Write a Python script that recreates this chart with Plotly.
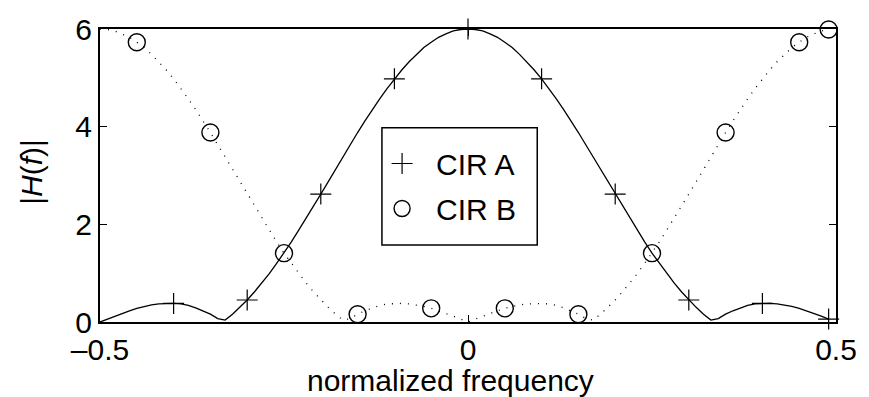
import plotly.graph_objects as go

# Frequency axis of a 100-point DFT, normalized to [-0.5, 0.5)
freq = [k / 100 for k in range(-50, 50)]

# |H(f)| of channel impulse response A, sampled on freq
mag_a = [0.00, 0.06, 0.12, 0.18, 0.23, 0.28, 0.32, 0.35, 0.37, 0.38,
         0.38, 0.37, 0.34, 0.29, 0.23, 0.16, 0.07, 0.04, 0.16, 0.30,
         0.45, 0.62, 0.80, 0.99, 1.20, 1.41, 1.64, 1.88, 2.12, 2.37,
         2.62, 2.87, 3.13, 3.38, 3.63, 3.88, 4.12, 4.35, 4.57, 4.78,
         4.98, 5.16, 5.33, 5.48, 5.62, 5.73, 5.83, 5.90, 5.96, 5.99,
         6.00, 5.99, 5.96, 5.90, 5.83, 5.73, 5.62, 5.48, 5.33, 5.16,
         4.98, 4.78, 4.57, 4.35, 4.12, 3.88, 3.63, 3.38, 3.13, 2.87,
         2.62, 2.37, 2.12, 1.88, 1.64, 1.41, 1.20, 0.99, 0.80, 0.62,
         0.45, 0.30, 0.16, 0.04, 0.07, 0.16, 0.23, 0.29, 0.34, 0.37,
         0.38, 0.38, 0.37, 0.35, 0.32, 0.28, 0.23, 0.18, 0.12, 0.06]

# |H(f)| of channel impulse response B, sampled on freq
mag_b = [6.00, 5.99, 5.96, 5.90, 5.83, 5.73, 5.62, 5.48, 5.33, 5.16,
         4.98, 4.78, 4.57, 4.35, 4.12, 3.88, 3.63, 3.38, 3.13, 2.87,
         2.62, 2.37, 2.12, 1.88, 1.64, 1.41, 1.20, 0.99, 0.80, 0.62,
         0.45, 0.30, 0.16, 0.04, 0.07, 0.16, 0.23, 0.29, 0.34, 0.37,
         0.38, 0.38, 0.37, 0.35, 0.32, 0.28, 0.23, 0.18, 0.12, 0.06,
         0.00, 0.06, 0.12, 0.18, 0.23, 0.28, 0.32, 0.35, 0.37, 0.38,
         0.38, 0.37, 0.34, 0.29, 0.23, 0.16, 0.07, 0.04, 0.16, 0.30,
         0.45, 0.62, 0.80, 0.99, 1.20, 1.41, 1.64, 1.88, 2.12, 2.37,
         2.62, 2.87, 3.13, 3.38, 3.63, 3.88, 4.12, 4.35, 4.57, 4.78,
         4.98, 5.16, 5.33, 5.48, 5.62, 5.73, 5.83, 5.90, 5.96, 5.99]

# Marked sample points
marker_freq_a = [-0.4, -0.3, -0.2, -0.1, 0.0, 0.1, 0.2, 0.3, 0.4, 0.49]
marker_mag_a = [0.38, 0.45, 2.62, 4.98, 6.00, 4.98, 2.62, 0.45, 0.38, 0.06]
marker_freq_b = [-0.45, -0.35, -0.25, -0.15, -0.05, 0.05, 0.15, 0.25, 0.35, 0.45, 0.49]
marker_mag_b = [5.73, 3.88, 1.41, 0.16, 0.28, 0.28, 0.16, 1.41, 3.88, 5.73, 5.99]

x_ticks = [-0.5, 0, 0.5]
x_ticktext = ["\u20130.5", "0", "0.5"]
y_ticks = [0, 2, 4, 6]
y_ticktext = ["0", "2", "4", "6"]

FONT = "Liberation Sans, Arial, Helvetica, sans-serif"
FS = 30

# plot-area geometry in pixels
L, R, T, B = 100, 25, 25, 75
W, H = 869, 397
PW, PH = W - L - R, H - T - B


def px_x(px):
    return (px - L) / PW


def px_y(py):
    return (H - B - py) / PH


fig = go.Figure()

fig.add_trace(go.Scatter(
    x=freq, y=mag_a, mode="lines", showlegend=False, hoverinfo="skip",
    line=dict(color="black", width=1.3),
))
fig.add_trace(go.Scatter(
    x=freq, y=mag_b, mode="lines", showlegend=False, hoverinfo="skip",
    line=dict(color="black", width=1.3, dash="1px,7px"),
))
fig.add_trace(go.Scatter(
    x=marker_freq_a, y=marker_mag_a, mode="markers", name="CIR A",
    legendgroup="a", cliponaxis=False,
    marker=dict(symbol="cross-thin-open", size=15, color="black",
                line=dict(color="black", width=1.2)),
))
fig.add_trace(go.Scatter(
    x=marker_freq_b, y=marker_mag_b, mode="markers", name="CIR B",
    legendgroup="b", cliponaxis=False,
    marker=dict(symbol="circle-open", size=17, color="black",
                line=dict(color="black", width=1.4)),
))

# legend frame
fig.add_shape(type="rect", xref="paper", yref="paper",
              x0=px_x(385), x1=px_x(542), y0=px_y(244), y1=px_y(125),
              line=dict(color="black", width=1.5), fillcolor="white",
              layer="below")

axis_common = dict(
    showline=True, linecolor="black", linewidth=2, mirror="ticks",
    ticks="inside", ticklen=7, tickwidth=1, tickcolor="black",
    showgrid=False, zeroline=False,
    tickfont=dict(family=FONT, size=FS, color="black"),
)

fig.update_layout(
    width=W, height=H,
    margin=dict(l=L, r=R, t=T, b=B),
    paper_bgcolor="white", plot_bgcolor="rgba(0,0,0,0)",
    font=dict(family=FONT, size=FS, color="black"),
    xaxis=dict(range=[-0.5, 0.5], tickvals=x_ticks, ticktext=x_ticktext,
               **axis_common),
    yaxis=dict(range=[0, 6], tickvals=y_ticks, ticktext=y_ticktext,
               **axis_common),
    legend=dict(x=px_x(371), y=px_y(135),
                xanchor="left", yanchor="top",
                bgcolor="rgba(0,0,0,0)", borderwidth=0,
                font=dict(family=FONT, size=FS, color="black"),
                traceorder="grouped", tracegroupgap=3,
                itemwidth=58),
    annotations=[
        dict(text="normalized frequency", xref="paper", yref="paper",
             x=px_x(454), y=px_y(381), xanchor="center", yanchor="middle",
             showarrow=False, font=dict(family=FONT, size=FS, color="black")),
        dict(text="|<i>H</i>(<i>f</i>)|", xref="paper", yref="paper",
             x=px_x(30), y=px_y(170), xanchor="center", yanchor="middle",
             textangle=-90, showarrow=False,
             font=dict(family=FONT, size=FS, color="black")),
    ],
)

fig.write_html("out.html")
